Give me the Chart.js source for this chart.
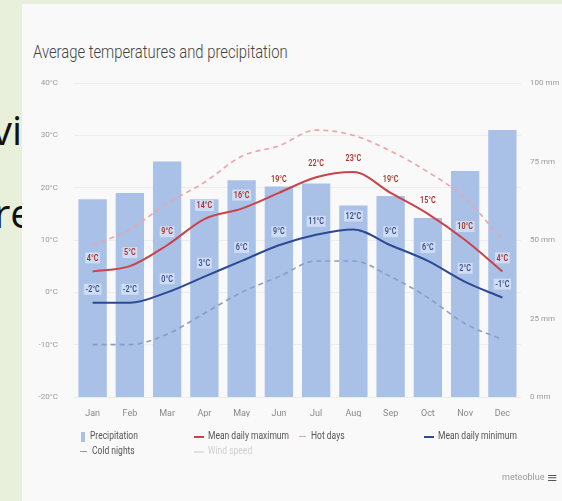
<!DOCTYPE html>
<html><head><meta charset="utf-8">
<script src="https://cdn.jsdelivr.net/npm/chart.js@4.4.1/dist/chart.umd.min.js"></script>
<style>
html,body{margin:0;padding:0;width:562px;height:501px;overflow:hidden;background:#e8efda;}
.st{position:absolute;font-family:"Open Sans",sans-serif;font-size:40px;line-height:40px;color:#111;white-space:nowrap;}
#card{position:absolute;left:22px;top:4px;width:540px;height:497px;background:#f8f9f8;}
#title{position:absolute;left:33px;top:43px;font-family:Roboto,sans-serif;font-size:18px;line-height:18px;font-weight:300;color:#444;transform-origin:0 0;white-space:nowrap;}
#chart{position:absolute;left:0;top:0;}
#legend{position:absolute;left:0;top:0;width:562px;height:501px;pointer-events:none;font-family:Roboto,sans-serif;font-size:10px;color:#555;}
.li{position:absolute;white-space:nowrap;transform-origin:0 50%;}
.ic{position:absolute;}
#brand{position:absolute;left:502px;top:472px;font-family:Roboto,sans-serif;font-size:9px;color:#9a9a9a;}
#menu{position:absolute;left:547px;top:470px;font-family:"DejaVu Sans",sans-serif;font-size:13px;color:#555;}
</style></head>
<body>
<div class="st" style="left:-8px;top:110px;">vi</div>
<div class="st" style="left:-6px;top:193px;">re</div>
<div id="card"></div>
<div id="title">Average temperatures and precipitation</div>
<canvas id="chart" width="562" height="501"></canvas>
<div id="legend"></div>
<div id="brand">meteoblue</div>
<div id="menu">&#8801;</div>
<script>
const months = ['Jan','Feb','Mar','Apr','May','Jun','Jul','Aug','Sep','Oct','Nov','Dec'];
const precipitation = [63, 65, 75, 63, 69, 67, 68, 61, 64, 57, 72, 85];
const meanDailyMax = [4, 5, 9, 14, 16, 19, 22, 23, 19, 15, 10, 4];
const meanDailyMin = [-2, -2, 0, 3, 6, 9, 11, 12, 9, 6, 2, -1];
const hotDays = [9, 12, 17, 21, 26, 28, 31, 30, 27, 23, 18, 10];
const coldNights = [-10, -10, -8, -4, 0, 3, 6, 6, 3, -1, -6, -9];
const tempTicks = [-20, -10, 0, 10, 20, 30, 40];
const precipTicks = [0, 25, 50, 75, 100];

// title condensed
const t = document.getElementById('title');
t.style.transform = 'scaleX(' + (255 / t.offsetWidth) + ')';

const valueLabels = {
  id: 'valueLabels',
  afterDatasetsDraw(chart) {
    const ctx = chart.ctx;
    chart.data.datasets.forEach((ds, di) => {
      if (!ds.labelColor || !chart.isDatasetVisible(di)) return;
      const meta = chart.getDatasetMeta(di);
      meta.data.forEach((pt, i) => {
        const txt = ds.data[i] + '°C';
        ctx.save();
        ctx.font = '600 9px Roboto, sans-serif';
        const w = ctx.measureText(txt).width;
        ctx.translate(pt.x, pt.y - 13);
        ctx.scale(0.8, 1);
        ctx.fillStyle = 'rgba(255,255,255,0.45)';
        ctx.fillRect(-w / 2 - 2, -6, w + 4, 11);
        ctx.fillStyle = ds.labelColor;
        ctx.textAlign = 'center';
        ctx.textBaseline = 'middle';
        ctx.fillText(txt, 0, 0);
        ctx.restore();
      });
    });
  }
};

const chart = new Chart(document.getElementById('chart'), {
  type: 'bar',
  data: {
    labels: months,
    datasets: [
      { type: 'bar', label: 'Precipitation', data: precipitation, yAxisID: 'y1',
        backgroundColor: '#a9c0e7', borderWidth: 0, barPercentage: 0.76, categoryPercentage: 1, order: 10 },
      { type: 'line', label: 'Mean daily maximum', data: meanDailyMax, yAxisID: 'y',
        borderColor: '#c9434b', borderWidth: 2, pointRadius: 0, tension: 0.4, cubicInterpolationMode: 'monotone',
        fill: false, order: 2, labelColor: '#a8322c' },
      { type: 'line', label: 'Hot days', data: hotDays, yAxisID: 'y',
        borderColor: '#f0a3a6', borderWidth: 1.6, borderDash: [5, 4], pointRadius: 0, tension: 0.4,
        cubicInterpolationMode: 'monotone', fill: false, order: 4 },
      { type: 'line', label: 'Mean daily minimum', data: meanDailyMin, yAxisID: 'y',
        borderColor: '#2d4994', borderWidth: 2, pointRadius: 0, tension: 0.4, cubicInterpolationMode: 'monotone',
        fill: false, order: 3, labelColor: '#34508f' },
      { type: 'line', label: 'Cold nights', data: coldNights, yAxisID: 'y',
        borderColor: '#8b9dc6', borderWidth: 1.6, borderDash: [5, 4], pointRadius: 0, tension: 0.4,
        cubicInterpolationMode: 'monotone', fill: false, order: 5 },
      { type: 'line', label: 'Wind speed', data: [], yAxisID: 'y', hidden: true,
        borderColor: '#d6d6d6', borderWidth: 2, pointRadius: 0, order: 6 }
    ]
  },
  options: {
    responsive: false,
    animation: false,
    layout: { padding: { left: 0, right: 0, top: 83, bottom: 84 } },
    plugins: { legend: { display: false }, tooltip: { enabled: false }, title: { display: false } },
    scales: {
      x: {
        offset: true,
        grid: { display: false, drawTicks: false },
        border: { display: false },
        ticks: { color: '#888', font: { family: 'Roboto', size: 9 }, padding: 11 },
        afterFit(s) { s.height = 20; }
      },
      y: {
        position: 'left', min: -20, max: 40,
        afterBuildTicks(s) { s.ticks = tempTicks.map(v => ({ value: v })); },
        ticks: { color: '#9a9a9a', font: { family: 'Roboto', size: 8 }, padding: 16, callback: v => v + '°C' },
        grid: { color: '#ececec', lineWidth: 1, drawTicks: false },
        border: { display: false },
        afterFit(s) { s.width = 74; }
      },
      y1: {
        position: 'right', min: 0, max: 100,
        afterBuildTicks(s) { s.ticks = precipTicks.map(v => ({ value: v })); },
        ticks: { color: '#9a9a9a', font: { family: 'Roboto', size: 8 }, padding: 9, callback: v => v + ' mm' },
        grid: { display: false, drawTicks: false },
        border: { display: false },
        afterFit(s) { s.width = 41; }
      }
    }
  },
  plugins: [valueLabels]
});

// HTML legend built from datasets
const legendSlots = {
  'Precipitation': [80, 437], 'Mean daily maximum': [194, 437], 'Hot days': [299, 437],
  'Mean daily minimum': [424, 437], 'Cold nights': [80, 452], 'Wind speed': [194, 452]
};
const lg = document.getElementById('legend');
chart.data.datasets.forEach((ds, i) => {
  const pos = legendSlots[ds.label];
  const hidden = !chart.isDatasetVisible(i);
  const ic = document.createElement('div');
  ic.className = 'ic';
  if (ds.type === 'bar') {
    ic.style.cssText = `left:${pos[0]+1}px;top:${pos[1]-5}px;width:4px;height:10px;background:${ds.backgroundColor};`;
  } else if (ds.borderDash) {
    ic.style.cssText = `left:${pos[0]}px;top:${pos[1]-1}px;width:7px;height:0;border-top:1.5px solid ${ds.borderColor};`;
  } else {
    ic.style.cssText = `left:${pos[0]}px;top:${pos[1]-1}px;width:10px;height:2px;background:${hidden ? '#e2e2e2' : ds.borderColor};`;
  }
  lg.appendChild(ic);
  const tx = document.createElement('div');
  tx.className = 'li';
  tx.textContent = ds.label;
  const off = ds.type === 'bar' ? 10 : (ds.borderDash ? 12 : 14);
  tx.style.left = (pos[0] + off) + 'px';
  tx.style.top = (pos[1] - 7) + 'px';
  tx.style.transform = 'scaleX(0.85)';
  if (hidden) tx.style.color = '#d0d0d0';
  lg.appendChild(tx);
});
</script>
</body></html>
